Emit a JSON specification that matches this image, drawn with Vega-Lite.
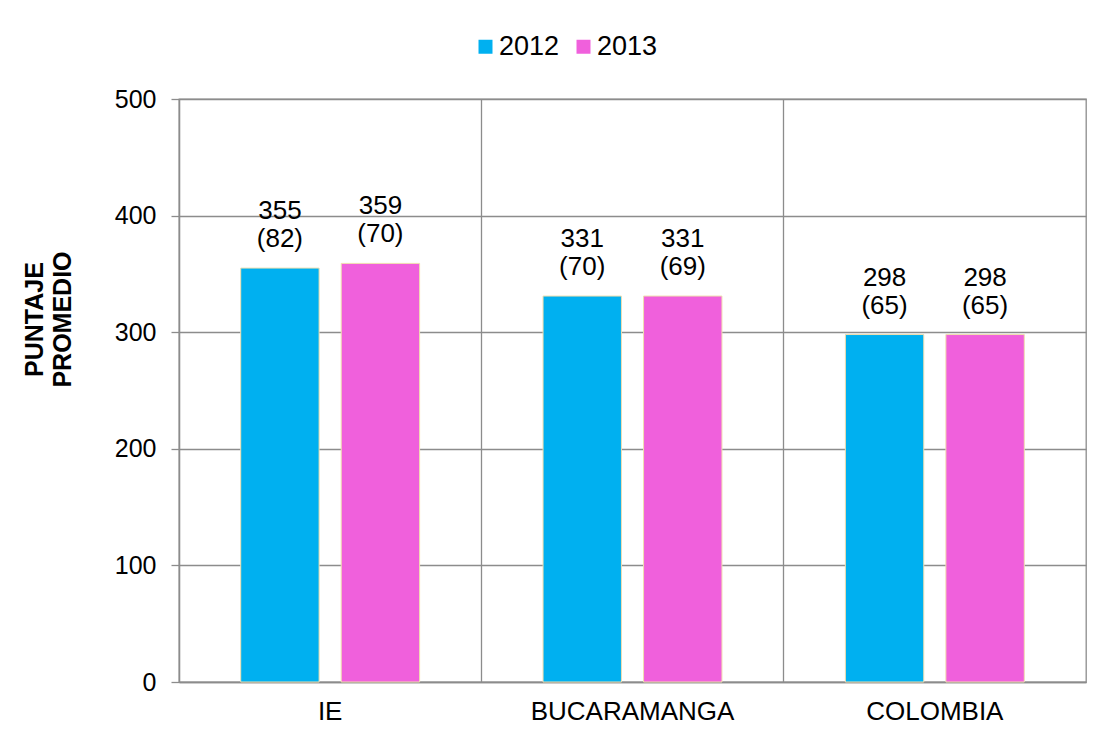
{
  "$schema": "https://vega.github.io/schema/vega-lite/v6.json",
  "width": 907,
  "height": 583,
  "autosize": {"type": "none"},
  "padding": {"left": 179, "top": 99, "right": 26, "bottom": 58},
  "background": "white",
  "data": {
    "values": [
      {"cat": "IE", "year": "2012", "value": 355, "label": "355\n(82)"},
      {"cat": "IE", "year": "2013", "value": 359, "label": "359\n(70)"},
      {"cat": "BUCARAMANGA", "year": "2012", "value": 331, "label": "331\n(70)"},
      {"cat": "BUCARAMANGA", "year": "2013", "value": 331, "label": "331\n(69)"},
      {"cat": "COLOMBIA", "year": "2012", "value": 298, "label": "298\n(65)"},
      {"cat": "COLOMBIA", "year": "2013", "value": 298, "label": "298\n(65)"}
    ]
  },
  "encoding": {
    "x": {
      "field": "cat",
      "type": "nominal",
      "sort": ["IE", "BUCARAMANGA", "COLOMBIA"],
      "scale": {"paddingInner": 0, "paddingOuter": 0},
      "axis": {
        "title": null,
        "labelAngle": 0,
        "labelLimit": 0,
        "labelFont": "Liberation Sans",
        "labelFontSize": 26,
        "labelColor": "#000000",
        "labelPadding": 16,
        "ticks": false,
        "grid": true,
        "bandPosition": 0,
        "gridColor": "#8c8c8c",
        "gridWidth": 1.3,
        "domainColor": "#8c8c8c",
        "domainWidth": 1.3
      }
    },
    "xOffset": {
      "field": "year",
      "type": "nominal",
      "scale": {"paddingInner": 0.22, "paddingOuter": 0.614}
    },
    "y": {
      "field": "value",
      "type": "quantitative",
      "scale": {"domain": [0, 500], "nice": false},
      "axis": {
        "title": ["PUNTAJE", "PROMEDIO"],
        "titleFont": "Liberation Sans",
        "titleFontSize": 25,
        "titleFontWeight": "bold",
        "titleColor": "#000000",
        "titleX": -137,
        "titleY": 220,
        "titleAlign": "center",
        "titleBaseline": "alphabetic",
        "titleAngle": -90,
        "titleLineHeight": 28,
        "values": [0, 100, 200, 300, 400, 500],
        "labelFont": "Liberation Sans",
        "labelFontSize": 25,
        "labelColor": "#000000",
        "labelPadding": 15,
        "tickSize": 8,
        "tickColor": "#8c8c8c",
        "tickWidth": 1.3,
        "gridColor": "#8c8c8c",
        "gridWidth": 1.3,
        "domainColor": "#8c8c8c",
        "domainWidth": 1.3
      }
    }
  },
  "layer": [
    {
      "mark": {"type": "bar", "stroke": "#f0dfb0", "strokeWidth": 1},
      "encoding": {
        "color": {
          "field": "year",
          "type": "nominal",
          "scale": {"domain": ["2012", "2013"], "range": ["#00b0f0", "#f060dc"]},
          "legend": {
            "title": null,
            "orient": "none",
            "direction": "horizontal",
            "legendX": 293,
            "legendY": -66,
            "padding": 0,
            "symbolType": "square",
            "symbolSize": 196,
            "symbolStrokeWidth": 0,
            "labelFont": "Liberation Sans",
            "labelFontSize": 27,
            "labelColor": "#000000",
            "labelOffset": 0,
            "columnPadding": 10
          }
        }
      }
    },
    {
      "mark": {
        "type": "text",
        "baseline": "alphabetic",
        "align": "center",
        "dy": -49,
        "lineBreak": "\n",
        "lineHeight": 28,
        "font": "Liberation Sans",
        "fontSize": 26,
        "color": "#000000"
      },
      "encoding": {
        "text": {"field": "label"}
      }
    }
  ],
  "config": {
    "view": {"stroke": "#8c8c8c", "strokeWidth": 1.3}
  }
}
